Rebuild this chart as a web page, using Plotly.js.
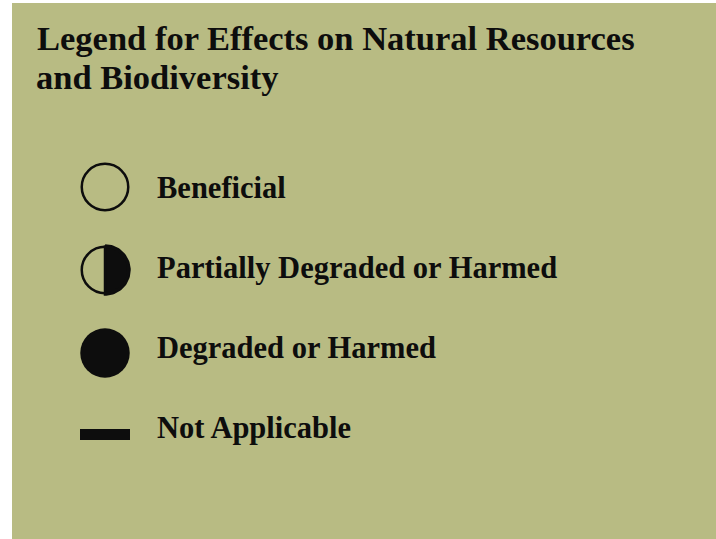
<!DOCTYPE html>
<html>
<head>
<meta charset="utf-8">
<script src="https://cdn.plot.ly/plotly-3.0.1.min.js"></script>
<style>html,body{margin:0;padding:0;background:#fff;}#chart{width:716px;height:539px;}</style>
</head>
<body>
<div id="chart"></div>
<script>
// ---- data ----
const titleLines = ["Legend for Effects on Natural Resources", "and Biodiversity"];
const labels = ["Beneficial", "Partially Degraded or Harmed", "Degraded or Harmed", "Not Applicable"];
const symbolKinds = ["open", "half", "filled", "dash"];

// ---- layout parameters (page pixels; axes are set 1 unit = 1 px) ----
const W = 716, H = 539, PANEL_LEFT = 12, PANEL_TOP = 3;
const SYM_X = 105, SYM_Y0 = 187, SYM_STEP = 83;
const LAB_X = 157, LAB_Y0 = 190, LAB_STEP = 80;
const R = 24.5;
const INK = "#0d0d0d", BG = "#b8bb83";
const FONT = "Liberation Serif, serif";
const TITLE_SIZE = 34.5;

const symY = symbolKinds.map((k, i) => SYM_Y0 + i * SYM_STEP);
const labY = labels.map((l, i) => LAB_Y0 + i * LAB_STEP);

const traces = [];

// half-filled disc (right half black)
symbolKinds.forEach((k, i) => {
  if (k !== "half") return;
  const xs = [], ys = [];
  for (let a = -90; a <= 90; a += 3) {
    const t = a * Math.PI / 180;
    xs.push(SYM_X + R * Math.cos(t));
    ys.push(symY[i] + R * Math.sin(t));
  }
  xs.push(xs[0]); ys.push(ys[0]);
  traces.push({x: xs, y: ys, mode: "lines", fill: "toself", fillcolor: INK,
    line: {color: INK, width: 2.5}, hoverinfo: "skip", showlegend: false});
});

// open circle outlines (beneficial + partial)
const openIdx = symbolKinds.map((k, i) => i).filter(i => symbolKinds[i] === "open" || symbolKinds[i] === "half");
traces.push({x: openIdx.map(() => SYM_X), y: openIdx.map(i => symY[i]), mode: "markers",
  marker: {symbol: "circle", size: 2 * R - 2.5, color: "rgba(0,0,0,0)", line: {color: INK, width: 2.5}},
  hoverinfo: "skip", showlegend: false});

// filled circle
const fillIdx = symbolKinds.map((k, i) => i).filter(i => symbolKinds[i] === "filled");
traces.push({x: fillIdx.map(() => SYM_X), y: fillIdx.map(i => symY[i]), mode: "markers",
  marker: {symbol: "circle", size: 2 * R + 0.5, color: INK, line: {width: 0}},
  hoverinfo: "skip", showlegend: false});

// dash (not applicable)
symbolKinds.forEach((k, i) => {
  if (k !== "dash") return;
  traces.push({x: [SYM_X - 25, SYM_X + 25], y: [symY[i] - 1.5, symY[i] - 1.5], mode: "lines",
    line: {color: INK, width: 11}, hoverinfo: "skip", showlegend: false});
});

// labels
traces.push({x: labels.map(() => LAB_X), y: labY, mode: "text", text: labels,
  textposition: "middle right", textfont: {family: FONT, size: 30.5, color: INK, weight: "bold"},
  hoverinfo: "skip", showlegend: false});

const layout = {
  width: W, height: H,
  margin: {l: 0, r: 0, t: 0, b: 0, pad: 0},
  paper_bgcolor: "#ffffff",
  plot_bgcolor: BG,
  title: {
    text: titleLines[0],
    font: {family: FONT, size: TITLE_SIZE, color: INK, weight: "bold"},
    x: 37 / W, xanchor: "left", xref: "paper",
    y: 1 - 26 / H, yanchor: "top", yref: "container"
  },
  annotations: titleLines.slice(1).map((t, i) => ({
    text: t, showarrow: false,
    font: {family: FONT, size: TITLE_SIZE, color: INK, weight: "bold"},
    xref: "x", yref: "y", x: 35, y: 77 + i * 38, xanchor: "left", yanchor: "middle",
    borderpad: 0
  })),
  xaxis: {domain: [PANEL_LEFT / W, 1], range: [PANEL_LEFT, W], visible: false, fixedrange: true},
  yaxis: {domain: [0, 1 - PANEL_TOP / H], range: [H, PANEL_TOP], visible: false, fixedrange: true},
  showlegend: false
};

Plotly.newPlot("chart", traces, layout, {staticPlot: true, displayModeBar: false});
</script>
</body>
</html>
